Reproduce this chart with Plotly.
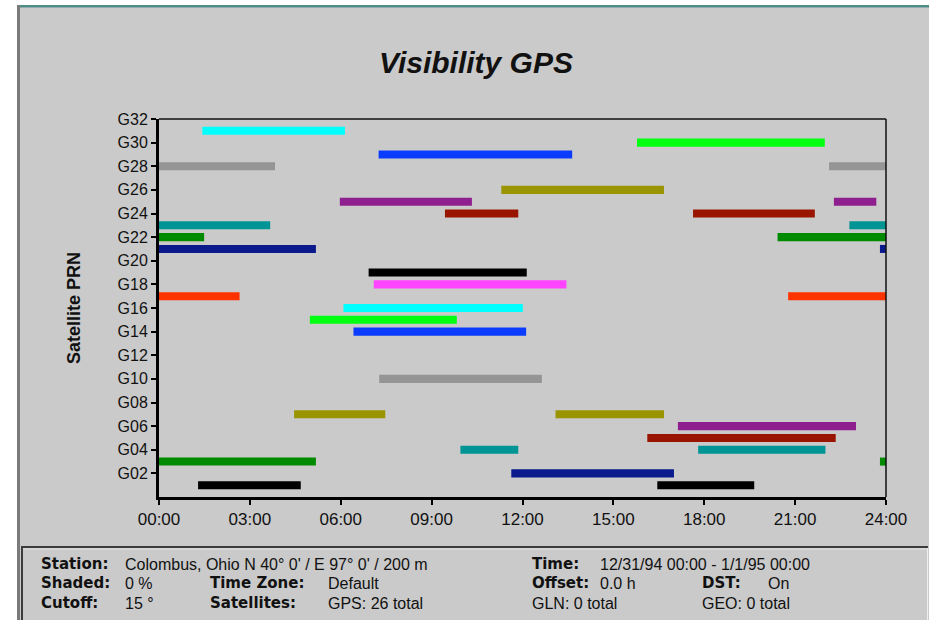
import plotly.graph_objects as go

# ---------------- data ----------------
prn =   [31, 30, 29, 28, 28, 26, 25, 25, 24, 24, 23, 23, 22, 22, 21, 21,
         19, 18, 17, 17, 16, 15, 14, 10, 7, 7, 6, 5, 4, 4, 3, 3, 2, 1, 1]
start = [1.43, 15.78, 7.25, 0.0, 22.12, 11.30, 5.97, 22.28, 9.44, 17.63, 0.0, 22.79, 0.0, 20.42, 0.0, 23.80,
         6.92, 7.09, 0.0, 20.77, 6.09, 4.98, 6.42, 7.27, 4.46, 13.09, 17.13, 16.12, 9.95, 17.80, 0.0, 23.80, 11.63, 1.29, 16.45]
end =   [6.14, 21.98, 13.64, 3.83, 24.0, 16.67, 10.33, 23.68, 11.86, 21.65, 3.67, 24.0, 1.49, 24.0, 5.18, 24.0,
         12.14, 13.45, 2.66, 24.0, 12.01, 9.83, 12.12, 12.64, 7.47, 16.67, 23.01, 22.34, 11.86, 22.00, 5.18, 24.0, 17.00, 4.68, 19.65]

y_tick_vals = list(range(2, 33, 2))
y_tick_text = ["G02", "G04", "G06", "G08", "G10", "G12", "G14", "G16",
               "G18", "G20", "G22", "G24", "G26", "G28", "G30", "G32"]
x_tick_vals = [0, 3, 6, 9, 12, 15, 18, 21, 24]
x_tick_text = ["00:00", "03:00", "06:00", "09:00", "12:00", "15:00", "18:00", "21:00", "24:00"]

info_labels = ["Station:", "Shaded:", "Time Zone:", "Cutoff:", "Satellites:", "Time:", "Offset:", "DST:"]
info_values = ["Colombus, Ohio N 40° 0' / E 97° 0' / 200 m", "0 %", "Default", "15 °",
               "GPS: 26 total", "12/31/94 00:00 - 1/1/95 00:00", "0.0 h", "On"]
info_plain = ["GLN: 0 total", "GEO: 0 total"]

# ---------------- styles ----------------
prn_color = {
    1: "#000000", 2: "#0a1a8c", 3: "#008a00", 4: "#009494", 5: "#991500", 6: "#8f1f8f",
    7: "#999400", 10: "#959595", 14: "#0a3cff", 15: "#00ff10", 16: "#00ffff", 17: "#ff3300",
    18: "#ff44ff", 19: "#000000", 21: "#0a1a8c", 22: "#008a00", 23: "#009494", 24: "#991500",
    25: "#8f1f8f", 26: "#999400", 28: "#959595", 29: "#0a3cff", 30: "#00ff10", 31: "#00ffff",
}
BG = "#cacaca"
FONT = "Liberation Sans"

W, H = 934, 620
PL, PR, PT, PB = 159, 886, 119, 497


def px(x):
    return (x - PL) / (PR - PL)


def py(y):
    return (PB - y) / (PB - PT)


fig = go.Figure()
fig.add_trace(go.Bar(
    orientation="h",
    y=prn,
    x=[e - s for s, e in zip(start, end)],
    base=start,
    width=0.68,
    marker=dict(color=[prn_color[p] for p in prn], line=dict(width=0)),
    hoverinfo="skip",
    showlegend=False,
))

shapes = [
    # window gray background
    dict(type="rect", xref="paper", yref="paper", x0=px(17), x1=px(929), y0=py(5), y1=py(621),
         fillcolor=BG, line=dict(width=0), layer="below"),
    # top teal strip
    dict(type="rect", xref="paper", yref="paper", x0=px(17), x1=px(929), y0=py(5), y1=py(7.5),
         fillcolor="#4f8c88", line=dict(width=0), layer="above"),
    # left dark border
    dict(type="rect", xref="paper", yref="paper", x0=px(17), x1=px(20), y0=py(5), y1=py(621),
         fillcolor="#7a7a7a", line=dict(width=0), layer="above"),
    # info panel borders
    dict(type="line", xref="paper", yref="paper", x0=px(21), x1=px(928), y0=py(547), y1=py(547),
         line=dict(color="#3c3c3c", width=2), layer="above"),
    dict(type="line", xref="paper", yref="paper", x0=px(22), x1=px(22), y0=py(547), y1=py(621),
         line=dict(color="#3c3c3c", width=2), layer="above"),
    dict(type="line", xref="paper", yref="paper", x0=px(23), x1=px(927), y0=py(549), y1=py(549),
         line=dict(color="#e2e2e2", width=1), layer="above"),
    dict(type="line", xref="paper", yref="paper", x0=px(927.5), x1=px(927.5), y0=py(548), y1=py(621),
         line=dict(color="#eeeeee", width=1), layer="above"),
    # thin top / right frame of plot
    dict(type="line", xref="paper", yref="paper", x0=0, x1=1, y0=1, y1=1,
         line=dict(color="#111111", width=1.5), layer="above"),
    dict(type="line", xref="paper", yref="paper", x0=1, x1=1, y0=0, y1=1,
         line=dict(color="#111111", width=1.5), layer="above"),
]

annotations = [
    dict(text="<b><i>Visibility GPS</i></b>", x=px(476), y=py(62), xref="paper", yref="paper",
         showarrow=False, xanchor="center", yanchor="middle",
         font=dict(family=FONT, size=30, color="#111111")),
    dict(text="<b>Satellite PRN</b>", x=px(74), y=py(308), xref="paper", yref="paper",
         showarrow=False, xanchor="center", yanchor="middle", textangle=-90,
         font=dict(family=FONT, size=18, color="#111111")),
]

# info panel text: (x_label, x_value, y_center)
label_pos = [(39, 123, 564), (39, 123, 583), (208, 326, 583), (39, 123, 603),
             (208, 326, 603), (530, 598, 564), (530, 598, 583), (700, 766, 583)]
for lab, val, (xl, xv, yc) in zip(info_labels, info_values, label_pos):
    annotations.append(dict(text="<b>" + lab + "</b>", x=px(xl), y=py(yc), xref="paper", yref="paper",
                            showarrow=False, xanchor="left", yanchor="middle",
                            font=dict(family="DejaVu Sans", size=15, color="#111111")))
    annotations.append(dict(text=val, x=px(xv), y=py(yc), xref="paper", yref="paper",
                            showarrow=False, xanchor="left", yanchor="middle",
                            font=dict(family=FONT, size=16, color="#111111")))
for txt, xl in zip(info_plain, [530, 700]):
    annotations.append(dict(text=txt, x=px(xl), y=py(603), xref="paper", yref="paper",
                            showarrow=False, xanchor="left", yanchor="middle",
                            font=dict(family=FONT, size=16, color="#111111")))

fig.update_layout(
    width=W, height=H,
    margin=dict(l=PL, r=W - PR, t=PT, b=H - PB, pad=0),
    paper_bgcolor="white",
    plot_bgcolor=BG,
    barmode="overlay",
    shapes=shapes,
    annotations=annotations,
    font=dict(family=FONT, color="#111111"),
    xaxis=dict(range=[0, 24], tickvals=x_tick_vals, ticktext=x_tick_text,
               showgrid=False, zeroline=False, showline=True, linecolor="#000000", linewidth=3,
               ticks="outside", ticklen=5, tickwidth=2, tickcolor="#000000",
               tickfont=dict(family=FONT, size=17, color="#111111"), fixedrange=True),
    yaxis=dict(range=[0, 32], tickvals=y_tick_vals, ticktext=y_tick_text,
               showgrid=False, zeroline=False, showline=True, linecolor="#000000", linewidth=3,
               ticks="outside", ticklen=5, tickwidth=2, tickcolor="#000000",
               tickfont=dict(family=FONT, size=16, color="#111111"), fixedrange=True),
)

fig.write_html("out.html")
